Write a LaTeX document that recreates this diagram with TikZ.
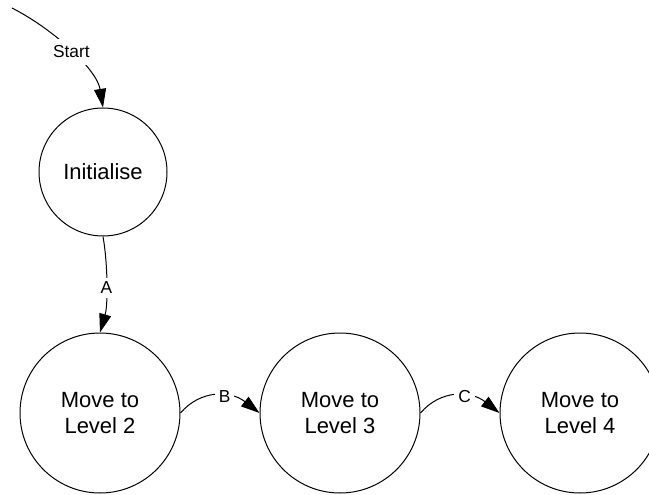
\documentclass[tikz,border=0pt]{standalone}
\usepackage{fontspec}
\setmainfont{Liberation Sans}
\usetikzlibrary{arrows.meta}
\begin{document}
\begin{tikzpicture}[x=0.75pt,y=-0.75pt,
  state/.style={draw, circle, line width=0.75pt, inner sep=0pt, align=center,
    font=\fontsize{16.5}{20}\selectfont},
  smallstate/.style={state, minimum size=96pt},
  bigstate/.style={state, minimum size=120pt},
  trans/.style={line width=0.75pt, -{Triangle[length=14pt,width=9pt]}},
  tlabel/.style={fill=white, inner sep=3pt, font=\fontsize{13}{15}\selectfont}]
  \useasboundingbox (0,0) rectangle (649,495);
  \clip (0,0) rectangle (649,495);

  % states
  \node[smallstate] (init) at (103,172) {Initialise};
  \node[bigstate] (l2) at (100,413) {Move to\\Level 2};
  \node[bigstate] (l3) at (340,413) {Move to\\Level 3};
  \node[bigstate] (l4) at (580,413) {Move to\\Level 4};

  % entry point
  \coordinate (entry) at (12,8);

  % transitions
  \draw[trans] (entry) .. controls (55,30) and (97,70) .. (init.north)
    node[tlabel, pos=0.5, inner sep=5pt] {Start};
  \draw[trans] (init.south) .. controls (108,265) and (108,305) .. (l2.north)
    node[tlabel, pos=0.53] {A};
  \draw[trans] (l2.east) .. controls (200,390) and (230,390) .. (l3.west)
    node[tlabel, pos=0.6] {B};
  \draw[trans] (l3.east) .. controls (440,390) and (470,390) .. (l4.west)
    node[tlabel, pos=0.6] {C};
\end{tikzpicture}
\end{document}
